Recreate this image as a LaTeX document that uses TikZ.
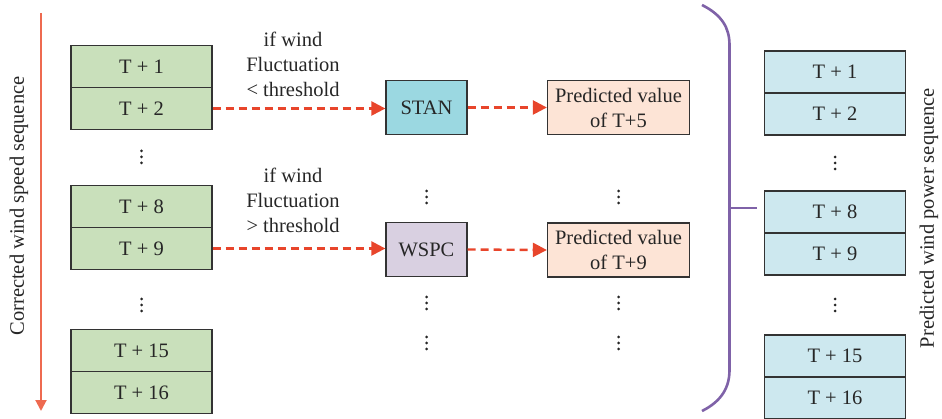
\documentclass[tikz,border=0pt]{standalone}
\usepackage{fontspec}
\setmainfont{Liberation Serif}
\usetikzlibrary{arrows.meta}
\definecolor{gfill}{HTML}{C9E0BB}
\definecolor{bfill}{HTML}{CDE8EF}
\definecolor{stanfill}{HTML}{9BD8E1}
\definecolor{wspcfill}{HTML}{D9D0E1}
\definecolor{pfill}{HTML}{FDE4D6}
\definecolor{redarr}{HTML}{E8452B}
\definecolor{salmon}{HTML}{EE6A50}
\definecolor{braceclr}{HTML}{7F62A8}
\definecolor{edge}{HTML}{333333}
\begin{document}
\begin{tikzpicture}[x=1pt,y=-1pt,
  font=\fontsize{20.5}{25}\selectfont,
  seqbox/.style={draw=edge, line width=1.3pt, minimum width=141pt, minimum height=42pt, inner sep=0pt, text=black!85},
  procbox/.style={draw=edge, line width=1.3pt, minimum width=81pt, minimum height=54pt, inner sep=0pt, text=black!85},
  predbox/.style={draw=edge, line width=1.3pt, minimum width=142pt, minimum height=54pt, inner sep=0pt, align=center, text=black!85},
  dasharrow/.style={draw=redarr, line width=2.4pt, dash pattern=on 8pt off 5pt, -{Triangle[length=14pt,width=14pt]}},
  cond/.style={align=center, text=black!85, inner sep=0pt},
  vdot/.pic={\fill[black!85] (0,-6) circle (1.5) (0,0) circle (1.5) (0,6) circle (1.5);}
]
\useasboundingbox (0,0) rectangle (942,419);

% left sequence
\node[seqbox, fill=gfill] (l1) at (141.5,66.5) {T + 1};
\node[seqbox, fill=gfill] (l2) at (141.5,108.5) {T + 2};
\node[seqbox, fill=gfill] (l8) at (141.5,206.5) {T + 8};
\node[seqbox, fill=gfill] (l9) at (141.5,248.5) {T + 9};
\node[seqbox, fill=gfill] (l15) at (141.5,350.5) {T + 15};
\node[seqbox, fill=gfill] (l16) at (141.5,392.5) {T + 16};
\pic at (141.5,157) {vdot};
\pic at (141.5,305) {vdot};

% left axis
\coordinate (ltop) at (41,13);
\coordinate (lbot) at (41,411);
\draw[salmon, line width=2pt, -{Triangle[length=11pt,width=11pt]}] (ltop) -- (lbot);
\node[rotate=90, text=black!85] (llab) at (19,206) {Corrected wind speed sequence};

% conditions
\node[cond] (c1) at (293,64) {if wind\\Fluctuation\\\textless{} threshold};
\node[cond] (c2) at (293,200) {if wind\\Fluctuation\\\textgreater{} threshold};

% models
\node[procbox, fill=stanfill] (stan) at (426.5,107.5) {STAN};
\node[procbox, fill=wspcfill] (wspc) at (426.5,249.5) {WSPC};
\node[predbox, fill=pfill] (p5) at (618.5,107.5) {Predicted value\\of T+5};
\node[predbox, fill=pfill] (p9) at (618.5,250) {Predicted value\\of T+9};

\draw[dasharrow] (l2.east) -- (l2.east -| stan.west);
\draw[dasharrow] (l9.east) -- (l9.east -| wspc.west);
\draw[dasharrow] (stan.east) -- (p5.west);
\draw[dasharrow] (wspc.east) -- (p9.west);

\pic at (426.5,197) {vdot};
\pic at (426.5,303) {vdot};
\pic at (426.5,343) {vdot};
\pic at (618.5,197) {vdot};
\pic at (618.5,303) {vdot};
\pic at (618.5,343) {vdot};

% brace
\coordinate (btop) at (702,5);
\coordinate (bbot) at (702,411);
\coordinate (bmid) at (729.5,208);
\coordinate (btip) at (757,208);
\draw[braceclr, line width=2.6pt] (btop) .. controls (722,15) and (729.5,28) .. (729.5,45)
  -- (729.5,370) .. controls (729.5,387) and (722,401) .. (bbot);
\draw[braceclr, line width=2.6pt] (bmid) -- (btip);

% right sequence
\node[seqbox, fill=bfill] (r1) at (835,72) {T + 1};
\node[seqbox, fill=bfill] (r2) at (835,114) {T + 2};
\node[seqbox, fill=bfill] (r8) at (835,212) {T + 8};
\node[seqbox, fill=bfill] (r9) at (835,254) {T + 9};
\node[seqbox, fill=bfill] (r15) at (835,356) {T + 15};
\node[seqbox, fill=bfill] (r16) at (835,398) {T + 16};
\pic at (835,163) {vdot};
\pic at (835,305) {vdot};
\node[rotate=90, text=black!85] (rlab) at (929,218) {Predicted wind power sequence};
\end{tikzpicture}
\end{document}
